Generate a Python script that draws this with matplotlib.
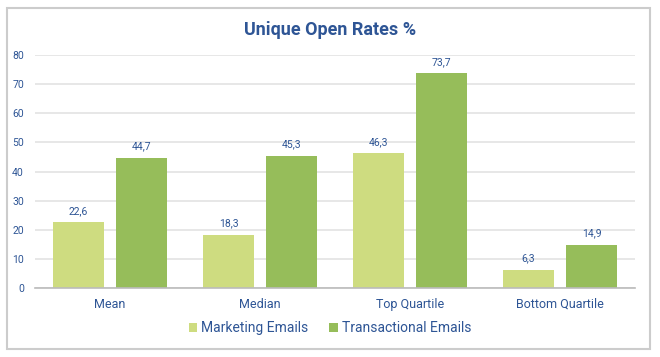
import matplotlib
matplotlib.use("Agg")
import matplotlib.pyplot as plt
import numpy as np
from matplotlib.patches import Rectangle

categories = ["Mean", "Median", "Top Quartile", "Bottom Quartile"]
marketing = [22.6, 18.3, 46.3, 6.3]
transactional = [44.7, 45.3, 73.7, 14.9]
series_names = ["Marketing Emails", "Transactional Emails"]
yticks = [0, 10, 20, 30, 40, 50, 60, 70, 80]

plt.rcParams['font.family'] = ['Roboto', 'DejaVu Sans']
txt = '#2E5595'
c1 = '#CEDC80'
c2 = '#96BD5A'

fig = plt.figure(figsize=(6.6, 3.57), dpi=100)
fig.patches.append(Rectangle((7/660, 8/357), 643/660, 341/357, transform=fig.transFigure,
                             fill=False, edgecolor='#cccccc', linewidth=1.5))
ax = fig.add_axes([35/660, 69/357, 600/660, 233/357])
x = np.arange(len(categories))
w = 0.335
off = 0.21
b1 = ax.bar(x - off, marketing, w, color=c1, label=series_names[0], zorder=3)
b2 = ax.bar(x + off, transactional, w, color=c2, label=series_names[1], zorder=3)
for bars, vals in ((b1, marketing), (b2, transactional)):
    for r, v in zip(bars, vals):
        ax.text(r.get_x() + r.get_width()/2, v + 2.2, f"{v:.1f}".replace('.', ','),
                ha='center', va='bottom', fontsize=7.5, color=txt)
ax.set_xlim(-0.5, 3.5)
ax.set_ylim(0, 80)
ax.set_yticks(yticks)
ax.set_xticks(x)
ax.set_xticklabels(categories, fontsize=9, color=txt)
ax.tick_params(axis='y', length=0, labelsize=7.5, labelcolor=txt, pad=8)
ax.tick_params(axis='x', length=0, pad=7)
ax.grid(axis='y', color='#e3e3e3', linewidth=1.2, zorder=0)
for s in ['top', 'right', 'left']:
    ax.spines[s].set_visible(False)
ax.spines['bottom'].set_color('#bbbbbb')
ax.spines['bottom'].set_linewidth(1.2)
ax.spines['bottom'].set_zorder(4)
fig.text(0.5, 1 - 30/357, "Unique Open Rates %", ha='center', va='center',
         fontsize=13, fontweight='bold', color=txt)
leg = fig.legend(handles=[b1, b2], labels=series_names, loc='center',
                 bbox_to_anchor=(0.5, 1 - 328/357), ncol=2, frameon=False,
                 fontsize=10, handlelength=0.6, handleheight=0.6, handletextpad=0.3,
                 columnspacing=1.5)
for t in leg.get_texts():
    t.set_color(txt)
fig.savefig("out.png", dpi=100)
